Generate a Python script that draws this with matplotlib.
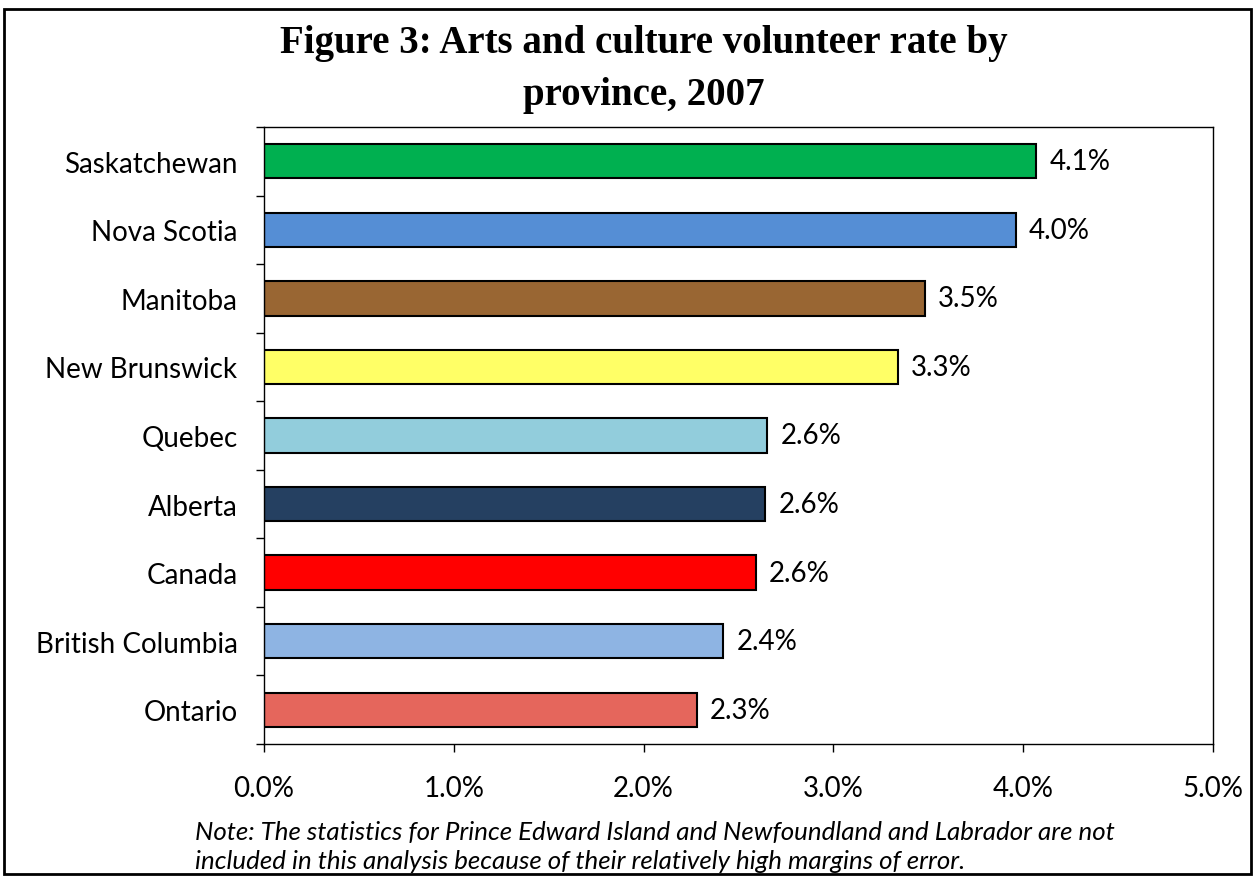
import matplotlib.pyplot as plt
from matplotlib.patches import Rectangle
from matplotlib.ticker import FuncFormatter

provinces = ['Saskatchewan', 'Nova Scotia', 'Manitoba', 'New Brunswick', 'Quebec',
             'Alberta', 'Canada', 'British Columbia', 'Ontario']
rates = [4.07, 3.96, 3.48, 3.34, 2.65, 2.64, 2.59, 2.42, 2.28]
rate_labels = ['4.1%', '4.0%', '3.5%', '3.3%', '2.6%', '2.6%', '2.6%', '2.4%', '2.3%']
bar_colors = ['#00B050', '#558ED5', '#996633', '#FFFF66', '#92CDDC',
              '#254061', '#FF0000', '#8EB4E3', '#E5665C']

title1 = 'Figure 3: Arts and culture volunteer rate by'
title2 = 'province, 2007'
note = ('Note: The statistics for Prince Edward Island and Newfoundland and Labrador are not\n'
        'included in this analysis because of their relatively high margins of error.')

fig = plt.figure(figsize=(12.55, 8.79), dpi=100)
ax = fig.add_axes([264/1255, 1-745/879, (1213-264)/1255, (745-128)/879])

ypos = list(range(len(provinces)))[::-1]
ax.barh(ypos, rates, height=0.5, color=bar_colors, edgecolor='black', linewidth=1.5)

for y, v, lab in zip(ypos, rates, rate_labels):
    ax.text(v + 0.07, y, lab, va='center', ha='left', fontsize=20, family='Lato')

ax.set_xlim(0, 5)
ax.set_ylim(-0.5, len(provinces) - 0.5)
ax.set_xticks([0, 1, 2, 3, 4, 5])
ax.xaxis.set_major_formatter(FuncFormatter(lambda x, p: '%.1f%%' % x))
ax.set_yticks(ypos)
ax.set_yticklabels(provinces)
ax.set_yticks([i + 0.5 for i in range(-1, len(provinces))], minor=True)
ax.tick_params(axis='y', which='major', length=0, pad=19, labelsize=20)
ax.tick_params(axis='y', which='minor', length=6, direction='out', width=1)
ax.tick_params(axis='x', length=6, direction='out', width=1, pad=16, labelsize=20)
for lab in ax.get_xticklabels() + ax.get_yticklabels():
    lab.set_family('Lato')
for s in ax.spines.values():
    s.set_linewidth(1)

fig.text(644/1255, 1-44/879, title1, ha='center', va='center', fontsize=28,
         fontweight='bold', family='Liberation Serif')
fig.text(644/1255, 1-95/879, title2, ha='center', va='center', fontsize=28,
         fontweight='bold', family='Liberation Serif')
fig.text(195/1255, 1-847/879, note, ha='left', va='center', fontsize=18.6,
         style='italic', family='Lato', linespacing=1.3)

fig.patches.append(Rectangle((4/1255, 4/879), 1-8/1255, 1-14/879, transform=fig.transFigure,
                             fill=False, edgecolor='black', linewidth=2))

fig.savefig('out.png', dpi=100)
